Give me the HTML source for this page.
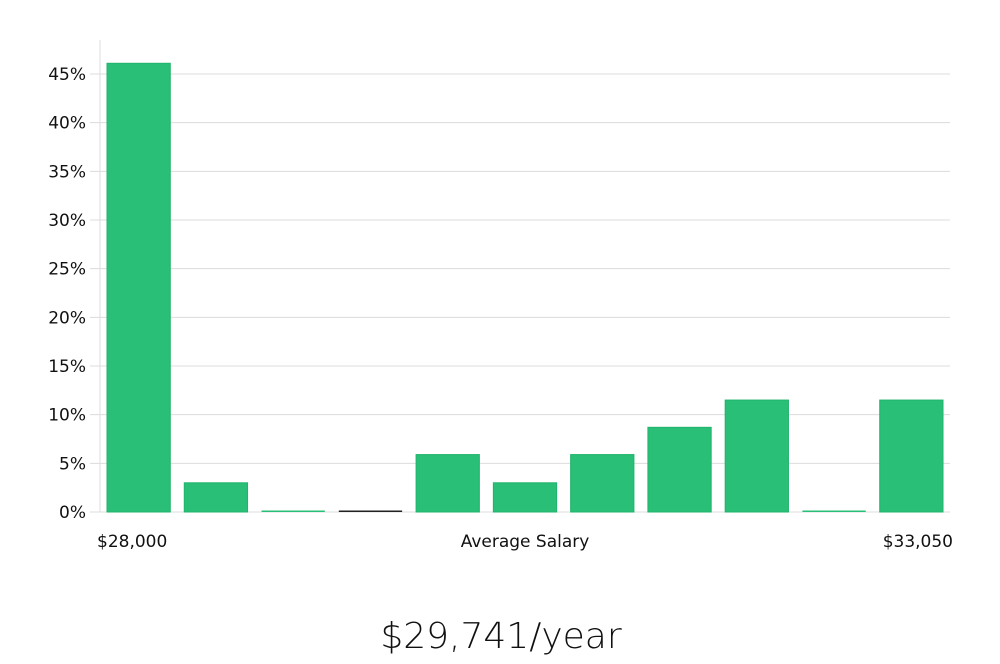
<!DOCTYPE html>
<html><head><meta charset="utf-8">
<style>
body{margin:0;background:#fff;font-family:"DejaVu Sans","Liberation Sans",sans-serif;}
svg text{font-family:"DejaVu Sans","Liberation Sans",sans-serif;}
</style></head>
<body>
<svg id="chart" width="1000" height="660" xmlns="http://www.w3.org/2000/svg">
<g id="grid"></g>
<g id="yticks"></g>
<line x1="100" y1="40" x2="100" y2="512" stroke="#ddd" stroke-width="1"/>
<g id="bars"></g>
<text x="97" y="547" font-size="17" fill="#111">$28,000</text>
<text x="525" y="547" font-size="17" fill="#111" text-anchor="middle">Average Salary</text>
<text x="953" y="547" font-size="17" fill="#111" text-anchor="end">$33,050</text>
<text x="501" y="648" font-size="36" fill="#111" text-anchor="middle" font-weight="300">$29,741/year</text>
</svg>
<script>
const bins = ["b1","b2","b3","b4","b5","b6","b7","b8","b9","b10","b11"];
const values = [46.1, 3.0, 0, 0, 5.9, 3.0, 5.9, 8.7, 11.5, 0, 11.5];
const tickValues = [0,5,10,15,20,25,30,35,40,45];
const tickLabels = ["0%","5%","10%","15%","20%","25%","30%","35%","40%","45%"];
const NS="http://www.w3.org/2000/svg";
const x0=100,x1=950,y0=512,pxPer=(512-74)/45;
function y(v){return y0-v*pxPer;}
function xBand(i){return x0+i*(x1-x0)/bins.length;}
const grid=document.getElementById('grid'),yt=document.getElementById('yticks'),bg=document.getElementById('bars');
tickValues.forEach((t,i)=>{
  const l=document.createElementNS(NS,'line');
  
  
  l.setAttribute('x1',90);l.setAttribute('x2',x1);l.setAttribute('y1',y(t));l.setAttribute('y2',y(t));
  l.setAttribute('stroke','#dcdcdc');l.setAttribute('stroke-width',1);
  grid.appendChild(l);
  const tx=document.createElementNS(NS,'text');
  
  
  tx.setAttribute('x',86);tx.setAttribute('y',y(t)+6);tx.setAttribute('text-anchor','end');
  tx.setAttribute('font-size','17');tx.setAttribute('fill','#111');
  tx.textContent=tickLabels[i];
  yt.appendChild(tx);
});
const bw=(x1-x0)/bins.length;
values.forEach((v,i)=>{
  const r=document.createElementNS(NS,'rect');
  
  
  const h=Math.max(y0-y(v),1.5);
  r.setAttribute('x',xBand(i)+7);r.setAttribute('width',bw-14);
  r.setAttribute('y',y0-h);r.setAttribute('height',h);
  r.setAttribute('fill',i===3?'#222':'#2abf77');
  if(v>0){r.setAttribute('stroke','#20b36b');r.setAttribute('stroke-width',1);}
  bg.appendChild(r);
});
</script>
</body></html>
